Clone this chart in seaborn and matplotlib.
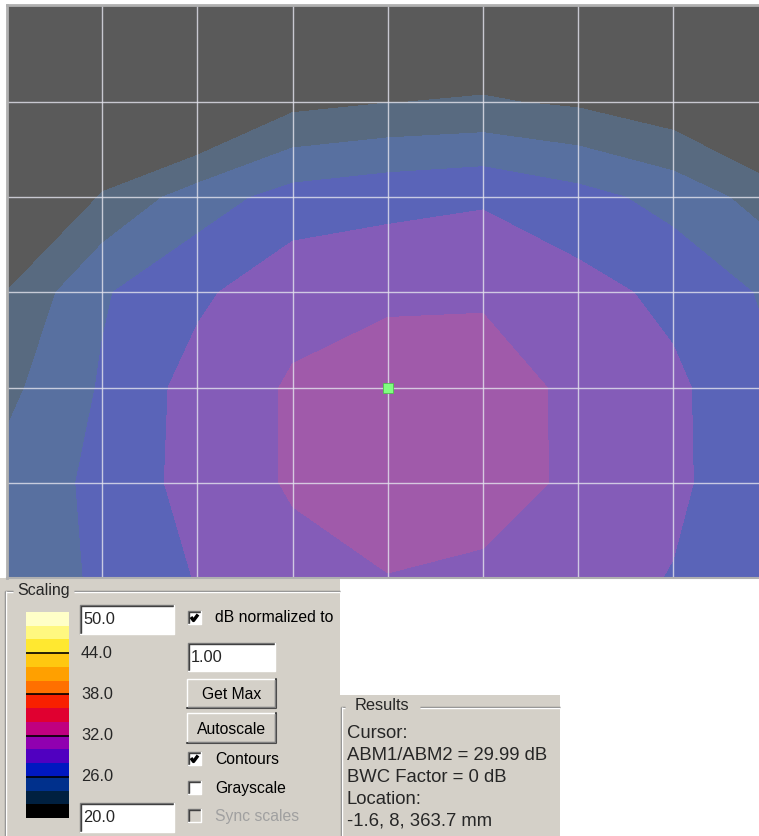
import numpy as np
import matplotlib
matplotlib.use("Agg")
import matplotlib.pyplot as plt
from matplotlib.colors import ListedColormap
from matplotlib.patches import Rectangle
import seaborn as sns

# measurement grid (grid-line units), cursor sits at the origin
x_nodes = [-4, -3, -2, -1, 0, 1, 2, 3, 4]
y_nodes = [-2, -1, 0, 1, 2, 3, 4]

# ABM1/ABM2 in dB at each grid node, bottom row (y=-2) first
db_ym2 = [26.8, 28.3, 30.1, 31.4, 31.9, 31.1, 30.8, 29.9, 28.5]
db_ym1 = [26.7, 28.5, 30.8, 32.2, 33.8, 34.0, 31.1, 30.4, 28.5]
db_y0 = [25.5, 28.2, 30.8, 32.2, 33.4, 34.5, 30.8, 30.4, 28.3]
db_y1 = [24.1, 27.8, 29.6, 31.4, 31.5, 31.3, 30.7, 29.5, 27.7]
db_y2 = [18.3, 24.3, 27.0, 28.8, 29.4, 29.8, 28.7, 27.3, 25.1]
db_y3 = [16.0, 19.0, 20.2, 23.4, 23.95, 24.2, 23.7, 22.6, 19.5]
db_y4 = [14.0, 16.0, 18.0, 20.0, 21.0, 21.5, 20.0, 18.0, 16.0]

contour_levels = [0, 24, 26, 28, 30, 32, 60]
contour_colors = ['#5a5a5a', '#586a80', '#5870a0', '#5a64b8', '#845cb8', '#a05aaa']
cursor_xy = (0, 0)

# scaling bar, top band (48-50 dB) first
scale_min, scale_max = 20.0, 50.0
scale_colors = ['#ffffc8', '#fff880', '#ffe830', '#ffc810', '#ffa000',
                '#ff7000', '#f82000', '#e00030', '#c00080', '#9000b0',
                '#5000c0', '#0018c0', '#00308c', '#002040', '#000000']
scale_ticks = [44.0, 38.0, 32.0, 26.0]

results_lines = ['Cursor:', 'ABM1/ABM2 = 29.99 dB', 'BWC Factor = 0 dB',
                 'Location:', '-1.6, 8, 363.7 mm']

sns.set_style('white')
plt.rcParams['font.family'] = ['Liberation Sans', 'DejaVu Sans']

W, H = 759, 836
fig = plt.figure(figsize=(W / 100, H / 100), dpi=100)
fig.patch.set_facecolor('white')

# ---------------- UI layer in pixel coordinates ----------------
ui = fig.add_axes([0, 0, 1, 1])
ui.set_xlim(0, W)
ui.set_ylim(H, 0)
ui.axis('off')

FACE = '#d4d0c8'
DARK = '#808080'


def px_rect(x0, y0, x1, y1, fc, ec='none', lw=0, z=1):
    ui.add_patch(Rectangle((x0, y0), x1 - x0, y1 - y0, facecolor=fc,
                           edgecolor=ec, linewidth=lw, zorder=z))


def etched_h(x0, x1, y):
    ui.plot([x0, x1], [y, y], color=DARK, lw=1, zorder=3, solid_capstyle='butt')
    ui.plot([x0, x1], [y + 1, y + 1], color='white', lw=1, zorder=3, solid_capstyle='butt')


def etched_v(x, y0, y1):
    ui.plot([x, x], [y0, y1], color=DARK, lw=1, zorder=3, solid_capstyle='butt')
    ui.plot([x + 1, x + 1], [y0, y1], color='white', lw=1, zorder=3, solid_capstyle='butt')


def sunken(x0, y0, x1, y1, fc='white'):
    px_rect(x0, y0, x1, y1, fc, z=2)
    ui.plot([x0, x0, x1], [y1, y0, y0], color=DARK, lw=1, zorder=3)
    ui.plot([x0 + 1, x0 + 1, x1 - 1], [y1 - 1, y0 + 1, y0 + 1], color='#404040', lw=1, zorder=3)
    ui.plot([x0, x1, x1], [y1, y1, y0], color='white', lw=1, zorder=3)


def button(x0, y0, x1, y1, label):
    px_rect(x0, y0, x1, y1, FACE, z=2)
    ui.plot([x0, x0, x1], [y1, y0, y0], color='white', lw=1, zorder=3)
    ui.plot([x0, x1, x1], [y1, y1, y0], color='#404040', lw=1.5, zorder=3)
    ui.plot([x0 + 1, x1 - 1.5, x1 - 1.5], [y1 - 1.5, y1 - 1.5, y0 + 1], color=DARK, lw=1, zorder=3)
    ui.text((x0 + x1) / 2, (y0 + y1) / 2 + 1, label, ha='center', va='center',
            fontsize=11.3, color='black', zorder=4)


def checkbox(x0, y0, label, checked, enabled=True):
    fc = 'white' if enabled else FACE
    sunken(x0, y0, x0 + 13, y0 + 13, fc=fc)
    if checked:
        ui.plot([x0 + 3, x0 + 5.5, x0 + 10], [y0 + 6, y0 + 9.5, y0 + 3.5],
                color='black', lw=2.4, zorder=4, solid_capstyle='butt')
    ui.text(x0 + 27, y0 + 7, label, ha='left', va='center', fontsize=11.3,
            color='black' if enabled else '#a0a0a0', zorder=4)


# panel backgrounds
px_rect(0, 578, 340, H, FACE)
px_rect(340, 695, 560, H, FACE)

# Scaling group box
etched_h(5, 13, 591)
etched_h(74, 340, 591)
etched_v(5, 591, H)
ui.text(17, 591, 'Scaling', ha='left', va='center', fontsize=11.5, zorder=4)

sunken(80, 605, 174, 634)
ui.text(83, 620, '50.0', ha='left', va='center', fontsize=11.8, zorder=4)
sunken(80, 803, 174, 832)
ui.text(83, 818, '20.0', ha='left', va='center', fontsize=11.8, zorder=4)
for t in scale_ticks:
    ty = 612 + (scale_max - t) / (scale_max - scale_min) * 206
    ui.text(81, ty, f'{t:.1f}', ha='left', va='center', fontsize=11.8, zorder=4)

checkbox(188, 611, 'dB normalized to', True)
sunken(188, 643, 275, 671)
ui.text(191, 657, '1.00', ha='left', va='center', fontsize=11.8, zorder=4)
button(187, 679, 276, 708, 'Get Max')
button(187, 713, 276, 743, 'Autoscale')
checkbox(188, 752, 'Contours', True)
checkbox(188, 781, 'Grayscale', False)
checkbox(188, 809, 'Sync scales', False, enabled=False)

# Results group box
etched_h(341, 345, 707)
etched_h(420, 560, 707)
etched_v(341, 707, H)
ui.text(355, 706, 'Results', ha='left', va='center', fontsize=11.8, zorder=4)
for i, line in enumerate(results_lines):
    ui.text(347, 733 + i * 22, line, ha='left', va='center', fontsize=13.3, zorder=4)

# ---------------- scaling bar (seaborn heatmap) ----------------
cax = fig.add_axes([26 / W, 1 - 818 / H, 43 / W, 206 / H])
band_mid = np.array([scale_max - 1 - 2 * i for i in range(len(scale_colors))]).reshape(-1, 1)
sns.heatmap(band_mid, ax=cax, cmap=ListedColormap(scale_colors[::-1]),
            vmin=scale_min, vmax=scale_max, cbar=False,
            xticklabels=False, yticklabels=False)
for t in scale_ticks:
    cax.axhline((scale_max - t) / 2, color='black', lw=1.2)

# ---------------- contour map ----------------
ax = fig.add_axes([7 / W, 1 - 578 / H, 752 / W, 573 / H])
ax.set_zorder(5)
ax.set_facecolor(contour_colors[0])
Z = np.array([db_ym2, db_ym1, db_y0, db_y1, db_y2, db_y3, db_y4])
X, Y = np.meshgrid(x_nodes, y_nodes)
ax.contourf(X, Y, Z, levels=contour_levels, colors=contour_colors, antialiased=False)
ax.set_xlim(-4, 3.9)
ax.set_ylim(-2, 4.02)
for gx in range(-3, 4):
    ax.axvline(gx, color='#e4e4ee', lw=1, alpha=0.8)
for gy in range(-1, 4):
    ax.axhline(gy, color='#e4e4ee', lw=1, alpha=0.8)
ax.scatter([cursor_xy[0]], [cursor_xy[1]], marker='s', s=60, color='#80ff80',
           edgecolors='#50c050', linewidths=0.6, zorder=6)
ax.set_xticks([])
ax.set_yticks([])
ax.spines['right'].set_visible(False)
for side in ['top', 'left']:
    ax.spines[side].set_color('#b0b0b0')
    ax.spines[side].set_linewidth(2)
ax.spines['bottom'].set_color('#b0b0b0')
ax.spines['bottom'].set_linewidth(1.5)

fig.savefig('out.png', dpi=100, facecolor=fig.get_facecolor())
